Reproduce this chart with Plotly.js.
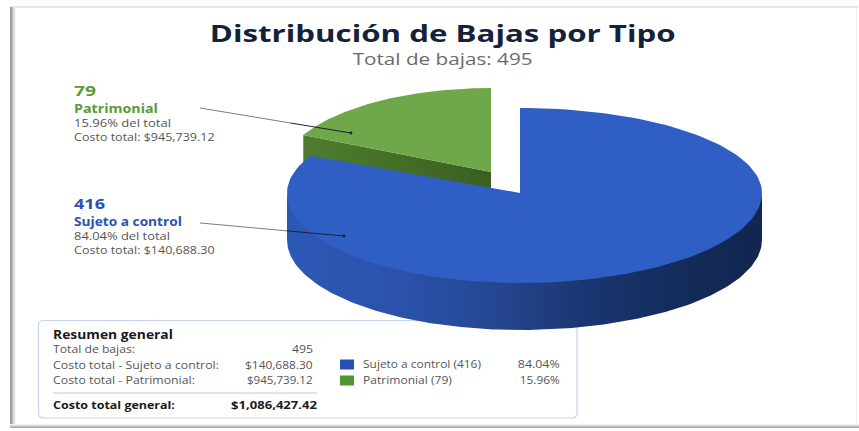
<!DOCTYPE html>
<html><head><meta charset="utf-8">
<script src="https://cdn.plot.ly/plotly-3.0.1.min.js"></script>
<style>html,body{margin:0;padding:0;background:#fff}#c{width:859px;height:431px}</style>
</head><body><div id="c"></div><script>
const categories = ["Sujeto a control", "Patrimonial"];
const counts = [416, 79];
const shares = [84.04, 15.96];
const costs = ["$140,688.30", "$945,739.12"];
const totalBajas = 495;
const totalCost = "$1,086,427.42";
const topColors = ["#2f5ec4", "#6fa84a"];
const labelColors = ["#2a52b0", "#5b9a38"];
const swatchColors = ["#2450b8", "#4e9630"];

const FONT = "Open Sans, sans-serif";
const DEPTH = 47;
// the drawing's oblique view widens the far-left wedge a little
const VIEW_STRETCH = 1.113;
const greenSweep = 2 * Math.PI * shares[1] / 100 * VIEW_STRETCH;

const BLUE = {x:520, y:193, rl:233, rr:242, ru:85, rd:90};
const GREEN = {x:491, y:172, rl:209, rr:209, ru:84, rd:84};
function pt(e, a, dy) {
  const s = Math.sin(a), c = Math.cos(a);
  return [e.x + s * (s < 0 ? e.rl : e.rr), e.y - c * (c > 0 ? e.ru : e.rd) + (dy || 0)];
}
function arc(e, a0, a1, dy) {
  const out = [], n = 160;
  for (let i = 0; i <= n; i++) out.push(pt(e, a0 + (a1 - a0) * i / n, dy));
  return out;
}
function poly(points, color, extra) {
  return Object.assign({
    type: "scatter", mode: "lines", fill: "toself", fillcolor: color,
    line: {width: 0, color: color}, hoverinfo: "skip",
    x: points.map(p => p[0]), y: points.map(p => p[1])
  }, extra || {});
}
const blueEnd = 2 * Math.PI - greenSweep;
const greenStart = -greenSweep;
const gCorner = pt(GREEN, greenStart);

const traces = [];
// green side wall
traces.push(poly([gCorner, [GREEN.x, GREEN.y], [GREEN.x, GREEN.y + DEPTH], [gCorner[0], gCorner[1] + DEPTH]], "#446e26",
  {fillgradient: {type: "horizontal", colorscale: [[0, "#4f7d2e"], [1, "#3a5f20"]]}}));
// green top
traces.push(poly([[GREEN.x, GREEN.y]].concat(arc(GREEN, greenStart, 0)), topColors[1]));
// blue side wall (near half of the rim, tucked under the top face)
const sideTop = arc(BLUE, Math.PI / 2, 3 * Math.PI / 2, -3);
const sideBot = arc(BLUE, 3 * Math.PI / 2, Math.PI / 2, DEPTH);
traces.push(poly(sideTop.concat(sideBot), "#23478f", {
  fillgradient: {type: "horizontal", colorscale: [
    [0, "#2c58b6"], [0.25, "#2a52aa"], [0.45, "#24468f"], [0.62, "#1b3672"], [0.82, "#142c5c"], [1, "#112650"]]}
}));
// blue top
traces.push(poly([[BLUE.x, BLUE.y]].concat(arc(BLUE, 0, blueEnd)), topColors[0]));

const fits = [];
function note(x, y, text, size, color, bold, anchor, width) {
  fits.push({anchor: anchor || "left", width});
  return {x, y, xref: "x", yref: "y", text: bold ? "<b>" + text + "</b>" : text, showarrow: false, borderpad: 0, borderwidth: 0,
    xanchor: anchor || "left", yanchor: "middle", font: {family: FONT, size, color}};
}
const body = "#555555";
const ann = [
  note(442, 33, "Distribución de Bajas por Tipo", 22.5, "#14213a", true, "center", 466),
  note(442, 59, "Total de bajas: " + totalBajas, 16, "#6b6b6b", false, "center", 180),
  note(74, 90, String(counts[1]), 14, labelColors[1], true, "left", 22),
  note(74, 108, categories[1], 11.5, labelColors[1], true, "left", 84),
  note(74, 123, shares[1] + "% del total", 10, body, false, "left", 97),
  note(74, 137, "Costo total: " + costs[1], 10, body, false, "left", 141),
  note(74, 203, String(counts[0]), 14, labelColors[0], true, "left", 31),
  note(74, 221, categories[0], 11.5, labelColors[0], true, "left", 108),
  note(74, 236, shares[0] + "% del total", 10, body, false, "left", 96),
  note(74, 250, "Costo total: " + costs[0], 10, body, false, "left", 141),
  note(53, 334, "Resumen general", 11.5, "#1a1a1a", true, "left", 120),
  note(53, 349, "Total de bajas:", 10, body, false, "left", 82),
  note(313, 349, String(totalBajas), 10, body, false, "right", 21.5),
  note(53, 365, "Costo total - " + categories[0] + ":", 10, body, false, "left", 166),
  note(313, 365, costs[0], 10, body, false, "right", 68),
  note(53, 380, "Costo total - " + categories[1] + ":", 10, body, false, "left", 142),
  note(313, 380, costs[1], 10, body, false, "right", 66),
  note(53, 405, "Costo total general:", 10.5, "#1a1a1a", true, "left", 122),
  note(317, 405, totalCost, 10.5, "#1a1a1a", true, "right", 86),
  note(362.5, 364, categories[0] + " (" + counts[0] + ")", 10, body, false, "left", 118),
  note(362.5, 380, categories[1] + " (" + counts[1] + ")", 10, body, false, "left", 89),
  note(560, 364, shares[0] + "%", 10, body, false, "right", 42),
  note(560, 380, shares[1] + "%", 10, body, false, "right", 40)
];

const shapes = [];
function rect(x0, y0, x1, y1, color, layer) {
  shapes.push({type: "rect", xref: "x", yref: "y", x0, y0, x1, y1, fillcolor: color, line: {width: 0}, layer: layer || "below"});
}
// window frame
rect(11, 6, 858, 8, "#e6e6e6");
["#9a9a9a", "#a6a6a6", "#bcbcbc", "#d4d4d4", "#e8e8e8", "#f6f6f6"].forEach((c, i) => rect(10 + i, 7, 11 + i, 428, c));
["#f2f2f2", "#dedede", "#bdbdbd", "#a8a8a8"].forEach((c, i) => rect(10, 424 + i, 859, 425 + i, c));
rect(856, 8, 857, 425, "#f1f1f1");
// summary box with rounded corners
(function () {
  const l = 38.5, t = 320.5, r = 577, b = 418, q = 5;
  shapes.push({type: "path", xref: "x", yref: "y", layer: "below", fillcolor: "#ffffff", line: {width: 1.2, color: "#c5d3ec"},
    path: `M ${l + q} ${t} L ${r - q} ${t} Q ${r} ${t} ${r} ${t + q} L ${r} ${b - q} Q ${r} ${b} ${r - q} ${b} L ${l + q} ${b} Q ${l} ${b} ${l} ${b - q} L ${l} ${t + q} Q ${l} ${t} ${l + q} ${t} Z`});
})();
shapes.push({type: "line", xref: "x", yref: "y", x0: 53, y0: 393, x1: 317, y1: 393, layer: "below", line: {width: 1, color: "#b9c8e6"}});
// legend swatches
swatchColors.forEach((c, i) => rect(340, 359.5 + 16 * i, 354, 369.5 + 16 * i, c));
// leaders
function leader(x0, y0, x1, y1, r, f) {
  const mx = x0 + (x1 - x0) * f, my = y0 + (y1 - y0) * f;
  shapes.push({type: "line", xref: "x", yref: "y", x0, y0, x1: mx, y1: my, layer: "above", line: {width: 1, color: "#7d7d7d"}});
  shapes.push({type: "line", xref: "x", yref: "y", x0: mx, y0: my, x1, y1, layer: "above", line: {width: 1, color: "#1c2433"}});
  shapes.push({type: "circle", xref: "x", yref: "y", x0: x1 - r, y0: y1 - r, x1: x1 + r, y1: y1 + r, layer: "above", fillcolor: "#14223f", line: {width: 0}});
}
leader(200, 108, 351, 133, 1.4, 0.6);
leader(200, 223, 344, 236, 1.4, 0.6);

Plotly.newPlot("c", traces, {
  width: 859, height: 431, margin: {l: 0, r: 0, t: 0, b: 0}, showlegend: false,
  paper_bgcolor: "#ffffff", plot_bgcolor: "#ffffff",
  xaxis: {range: [0, 859], visible: false, fixedrange: true},
  yaxis: {range: [431, 0], visible: false, fixedrange: true},
  annotations: ann, shapes
}, {displayModeBar: false, staticPlot: true}).then(() => {
  // the reference's lettering is horizontally widened: scale each label to its measured width
  document.querySelectorAll("#c .annotation").forEach(g => {
    const i = +g.getAttribute("data-index");
    const t = g.querySelector("text.annotation-text");
    const f = fits[i];
    if (!t || !f || !f.width) return;
    const b = t.getBBox();
    const ax = f.anchor === "left" ? b.x : f.anchor === "right" ? b.x + b.width : b.x + b.width / 2;
    const k = f.width / b.width;
    t.setAttribute("transform", `translate(${ax} 0) scale(${k} 1) translate(${-ax} 0)`);
  });
});
</script></body></html>
